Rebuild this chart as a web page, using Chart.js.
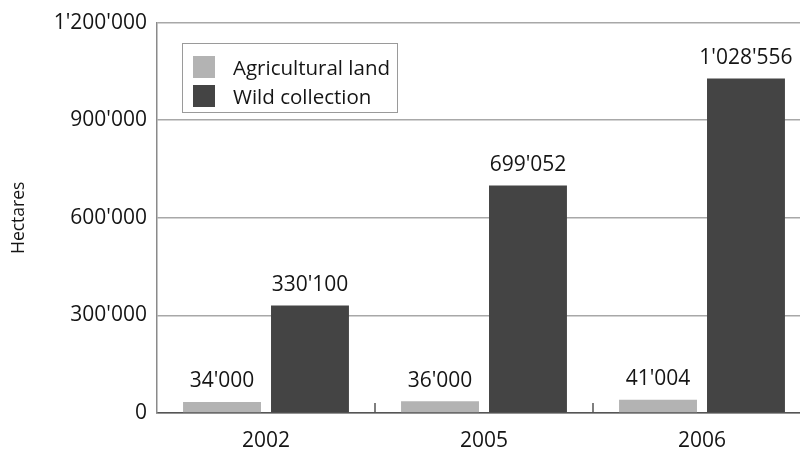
<!DOCTYPE html>
<html>
<head>
<meta charset="utf-8">
<script src="https://cdn.jsdelivr.net/npm/chart.js@4.4.1/dist/chart.umd.min.js"></script>
<style>
    html, body { margin: 0; padding: 0; background: #fff; overflow: hidden; }
    #wrap { position: relative; width: 820px; height: 451px; }
    #legend {
        position: absolute; left: 182px; top: 43px; width: 216px; height: 70px;
        border: 1px solid #9a9a9a; box-sizing: border-box;
        font-family: "Open Sans", sans-serif; font-size: 20.5px; color: #151515;
        padding: 8px 0 0 10px;
    }
    #legend div { display: flex; align-items: center; height: 29px; }
    #legend span { display: inline-block; width: 22px; height: 22px; margin-right: 18px; }
</style>
</head>
<body>
<div id="wrap">
    <canvas id="chart" width="820" height="451"></canvas>
    <div id="legend"></div>
</div>
<script>
// 数据
const years = ['2002', '2005', '2006'];
const agricultural = [34000, 36000, 41004];
const wild = [330100, 699052, 1028556];
const yTicks = [0, 300000, 600000, 900000, 1200000];

const seriesNames = ['Agricultural land', 'Wild collection'];
const seriesColors = ['#b3b3b3', '#444444'];
const textFont = '"Open Sans", sans-serif';

function fmt(v) {
    return String(v).replace(/\B(?=(\d{3})+(?!\d))/g, "'");
}

// 柱顶数值
const valueLabels = {
    id: 'valueLabels',
    afterDatasetsDraw(chart) {
        const ctx = chart.ctx;
        ctx.save();
        ctx.font = '21px ' + textFont;
        ctx.fillStyle = '#151515';
        ctx.textAlign = 'center';
        ctx.textBaseline = 'bottom';
        chart.data.datasets.forEach((ds, i) => {
            chart.getDatasetMeta(i).data.forEach((bar, j) => {
                ctx.fillText(fmt(ds.data[j]), bar.x, bar.y - 10);
            });
        });
        ctx.restore();
    }
};

// x轴上的分类分隔刻度（向上）
const innerTicks = {
    id: 'innerTicks',
    afterDraw(chart) {
        const x = chart.scales.x;
        const bottom = chart.chartArea.bottom;
        const ctx = chart.ctx;
        ctx.save();
        ctx.strokeStyle = '#555';
        ctx.lineWidth = 1.5;
        for (let i = 1; i < years.length; i++) {
            const px = (x.getPixelForTick(i - 1) + x.getPixelForTick(i)) / 2;
            ctx.beginPath();
            ctx.moveTo(px, bottom);
            ctx.lineTo(px, bottom - 10);
            ctx.stroke();
        }
        ctx.restore();
    }
};

new Chart(document.getElementById('chart').getContext('2d'), {
    type: 'bar',
    data: {
        labels: years,
        datasets: [
            { label: seriesNames[0], data: agricultural, backgroundColor: seriesColors[0] },
            { label: seriesNames[1], data: wild, backgroundColor: seriesColors[1] }
        ]
    },
    options: {
        responsive: false,
        animation: false,
        layout: { padding: { top: 16, right: 9, left: 0, bottom: 0 } },
        datasets: {
            bar: { categoryPercentage: 0.807, barPercentage: 0.886 }
        },
        scales: {
            x: {
                grid: { display: false },
                border: { color: '#555', width: 1.5 },
                ticks: {
                    color: '#151515',
                    padding: 7,
                    font: { family: textFont, size: 21 }
                },
                afterFit(scale) { scale.height = 38; }
            },
            y: {
                min: 0,
                max: 1200000,
                afterBuildTicks(scale) {
                    scale.ticks = yTicks.map(v => ({ value: v }));
                },
                grid: { color: '#a8a8a8', lineWidth: 1.5, drawTicks: false },
                border: { color: '#8a8a8a', width: 1.5 },
                ticks: {
                    color: '#151515',
                    padding: 10,
                    font: { family: textFont, size: 21 },
                    callback: v => fmt(v)
                },
                title: {
                    display: true,
                    text: 'Hectares',
                    color: '#151515',
                    padding: { top: 9, bottom: 0 },
                    font: { family: textFont, size: 17.5 }
                },
                afterFit(scale) { scale.width = 157; }
            }
        },
        plugins: {
            legend: { display: false },
            tooltip: { enabled: false }
        }
    },
    plugins: [valueLabels, innerTicks]
});

// 图例
const legend = document.getElementById('legend');
seriesNames.forEach((name, i) => {
    const row = document.createElement('div');
    row.innerHTML = `<span style="background:${seriesColors[i]}"></span>${name}`;
    legend.appendChild(row);
});
</script>
</body>
</html>
